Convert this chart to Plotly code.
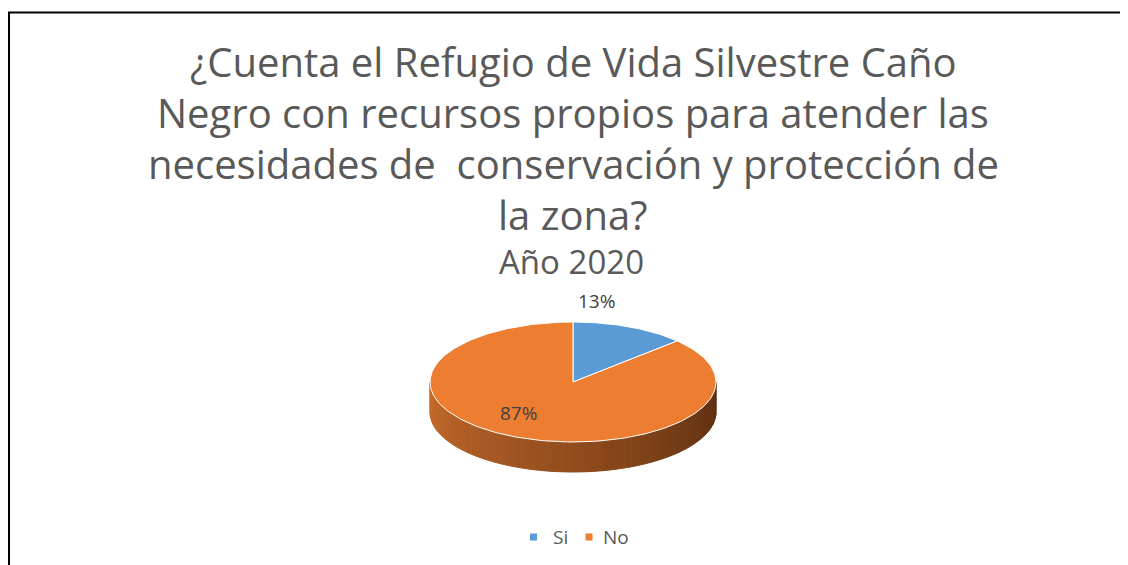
import numpy as np
import plotly.graph_objects as go

# ---- data ----
categories = ["Si", "No"]
values = [13, 87]
colors = ["#5B9BD5", "#ED7D31"]
title_lines = [
    "¿Cuenta el Refugio de Vida Silvestre Caño",
    "Negro con recursos propios para atender las",
    "necesidades de  conservación y protección de",
    "la zona?",
]
subtitle = "Año 2020"

W, H = 1128, 565
OFF = 8  # page body margin of the html page
cx, cy, rx, ry, depth = 573, 382, 143, 60, 30
FONT = "Open Sans"
TXT = "#595959"

fig = go.Figure()

vals = np.array(values, dtype=float)
frac = vals / vals.sum()
edges = np.concatenate([[0], np.cumsum(frac)])


def pt(t, dy=0.0):
    return cx + rx * np.sin(t), cy - ry * np.cos(t) + dy


# side (3D wall) drawn as gradient strips on the front half
N = 60
ts = np.linspace(np.pi / 2, 3 * np.pi / 2, N + 1)
c_right = np.array([0x5A, 0x2D, 0x0F])
c_left = np.array([0xC8, 0x6C, 0x2C])
for i in range(N):
    t0, t1 = ts[i], ts[i + 1]
    tt = np.linspace(t0, t1, 4)
    xs_top, ys_top = pt(tt)
    xs_bot, ys_bot = pt(tt[::-1], depth)
    xs = np.concatenate([xs_top, xs_bot, [xs_top[0]]])
    ys = np.concatenate([ys_top, ys_bot, [ys_top[0]]])
    f = (i + 0.5) / N
    c = (c_right * (1 - f) + c_left * f).astype(int)
    col = "rgb(%d,%d,%d)" % tuple(c)
    fig.add_trace(go.Scatter(x=xs, y=ys, mode="lines", fill="toself",
                             fillcolor=col, line=dict(color=col, width=1),
                             hoverinfo="skip", showlegend=False))

# top faces of the slices
for k, (name, col) in enumerate(zip(categories, colors)):
    t = np.linspace(2 * np.pi * edges[k], 2 * np.pi * edges[k + 1], 200)
    xs, ys = pt(t)
    xs = np.concatenate([[cx], xs, [cx]])
    ys = np.concatenate([[cy], ys, [cy]])
    fig.add_trace(go.Scatter(x=xs, y=ys, mode="lines", fill="toself",
                             fillcolor=col, line=dict(color="white", width=1),
                             hoverinfo="skip", showlegend=False, name=name))

# data labels
for k, name in enumerate(categories):
    mid = np.pi * (edges[k] + edges[k + 1])
    pct = "%d%%" % round(frac[k] * 100)
    if k == 0:
        x, y = pt(mid)
        fig.add_annotation(x=x - 33, y=y - 26, text=pct, showarrow=False,
                           font=dict(family=FONT, size=19, color="#404040"))
    else:
        x = cx + 0.6 * rx * np.sin(mid) - 20
        y = cy - 0.6 * ry * np.cos(mid) - 2
        fig.add_annotation(x=x, y=y, text=pct, showarrow=False,
                           font=dict(family=FONT, size=19, color="#404040"))

# title
title_y = [61, 112, 163, 214]
for line, y in zip(title_lines, title_y):
    fig.add_annotation(x=573, y=y, text=line, showarrow=False,
                       font=dict(family=FONT, size=40, color=TXT))
fig.add_annotation(x=571, y=261, text=subtitle, showarrow=False,
                   font=dict(family=FONT, size=33, color=TXT))

# legend
marker_x = [533.5, 589]
label_x = [551, 601]
for name, col, mx, lx in zip(categories, colors, marker_x, label_x):
    fig.add_trace(go.Scatter(x=[mx], y=[537], mode="markers",
                             marker=dict(symbol="square", size=7, color=col),
                             hoverinfo="skip", showlegend=False))
    fig.add_annotation(x=lx, y=537, text=name, showarrow=False,
                       xanchor="left", font=dict(family=FONT, size=19, color=TXT))

# outer frame (left edge drawn at the first visible pixel column)
fig.add_shape(type="rect", x0=OFF + 1, y0=12.5, x1=1160, y1=620,
              line=dict(color="black", width=2), layer="above")

fig.update_layout(
    width=W, height=H,
    margin=dict(l=0, r=0, t=0, b=0),
    paper_bgcolor="white", plot_bgcolor="white",
    xaxis=dict(range=[OFF, W + OFF], visible=False, fixedrange=True),
    yaxis=dict(range=[H + OFF, OFF], visible=False, fixedrange=True),
    showlegend=False,
)

fig.write_html("out.html")
